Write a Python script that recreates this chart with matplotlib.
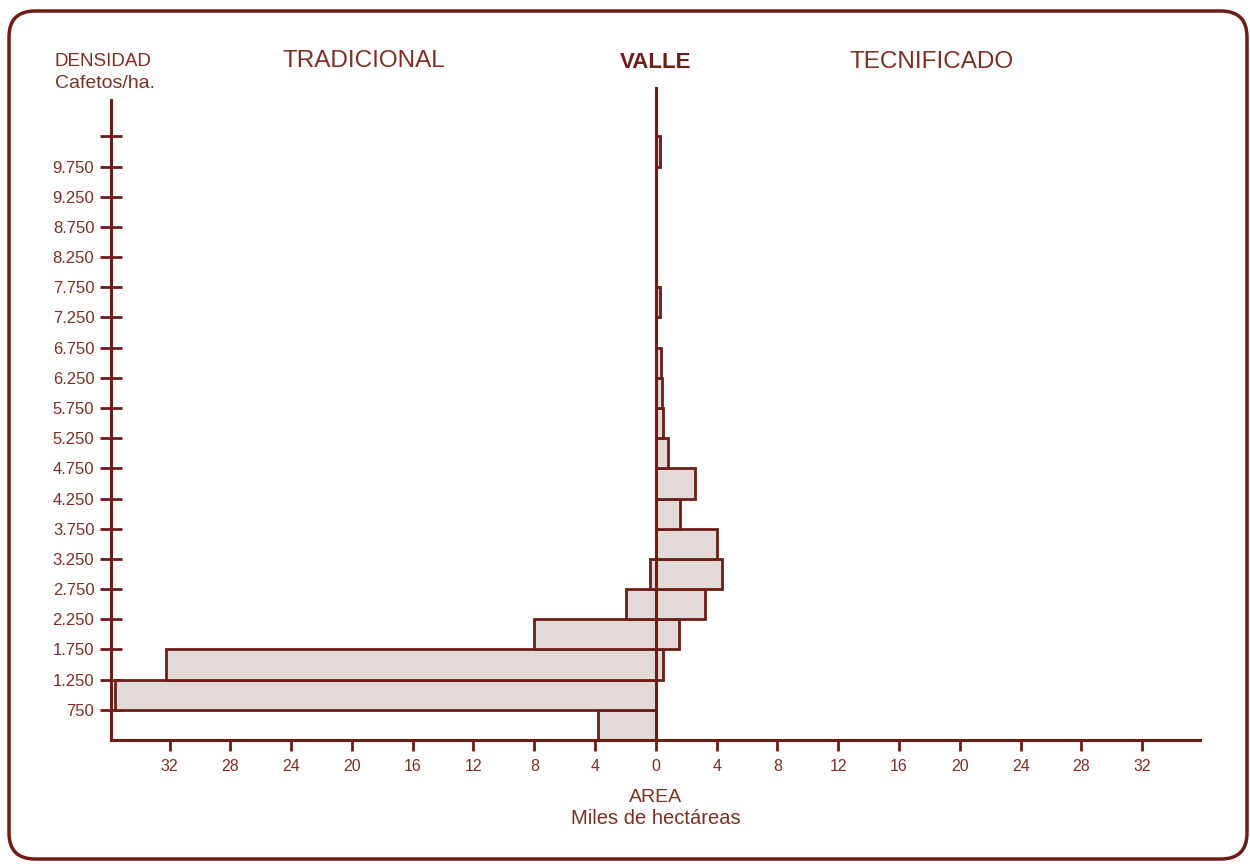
import matplotlib
matplotlib.use("Agg")
import matplotlib.pyplot as plt
from matplotlib.patches import FancyBboxPatch
from matplotlib.transforms import IdentityTransform

# Density bins (bottom to top), tick labels sit on the bin boundaries
density_labels = ["750", "1.250", "1.750", "2.250", "2.750", "3.250", "3.750",
                  "4.250", "4.750", "5.250", "5.750", "6.250", "6.750", "7.250",
                  "7.750", "8.250", "8.750", "9.250", "9.750", ""]
# Area in thousands of hectares, one value per bin (bottom first)
tradicional = [3.8, 35.6, 32.25, 8.0, 1.95, 0.4, 0, 0, 0, 0,
               0, 0, 0, 0, 0, 0, 0, 0, 0, 0]
tecnificado = [0, 0, 0.45, 1.5, 3.2, 4.35, 4.0, 1.6, 2.55, 0.8,
               0.5, 0.4, 0.35, 0, 0.3, 0, 0, 0, 0, 0.3]
x_ticks = [-32, -28, -24, -20, -16, -12, -8, -4, 0, 4, 8, 12, 16, 20, 24, 28, 32]

LINE = "#6e1c16"
TEXT = "#7d2e22"
FILL = "#e2dad8"

plt.rcParams["font.family"] = ["Liberation Sans", "DejaVu Sans"]

fig = plt.figure(figsize=(12.5, 8.64), dpi=100)
fig.patch.set_facecolor("white")
ax = fig.add_axes([0.0888, 0.1435, 0.8712, 0.7545])

bins = list(range(len(density_labels)))
ax.barh(bins, [-v for v in tradicional], height=1, align="edge",
        color=FILL, edgecolor=LINE, linewidth=2, zorder=2)
ax.barh(bins, tecnificado, height=1, align="edge",
        color=FILL, edgecolor=LINE, linewidth=2, zorder=2)

ax.plot([0, 0], [0, 21.6], color=LINE, lw=2.2, zorder=3, clip_on=False)

ax.set_xlim(-35.85, 35.8)
ax.set_ylim(0, 21.6)

for s in ["top", "right"]:
    ax.spines[s].set_visible(False)
for s in ["left", "bottom"]:
    ax.spines[s].set_color(LINE)
    ax.spines[s].set_linewidth(2.2)
ax.spines["left"].set_bounds(0, 21.2)

ax.set_yticks([b + 1 for b in bins])
ax.set_yticklabels(density_labels)
ax.tick_params(axis="y", direction="inout", length=16, width=2, color=LINE,
               labelcolor=TEXT, labelsize=12, pad=4)

ax.set_xticks(x_ticks)
ax.set_xticklabels([str(abs(t)) for t in x_ticks])
ax.tick_params(axis="x", direction="out", length=8, width=2, color=LINE,
               labelcolor=TEXT, labelsize=11.5, pad=6)

# headings
fig.text(55 / 1250, 1 - 62 / 864, "DENSIDAD", color=TEXT, fontsize=13.5, va="center")
fig.text(55 / 1250, 1 - 83 / 864, "Cafetos/ha.", color=TEXT, fontsize=14, va="center")
fig.text(364 / 1250, 1 - 61 / 864, "TRADICIONAL", color=TEXT, fontsize=17.5,
         ha="center", va="center")
fig.text(656 / 1250, 1 - 62 / 864, "VALLE", color=LINE, fontsize=16,
         fontweight="bold", ha="center", va="center")
fig.text(932 / 1250, 1 - 62 / 864, "TECNIFICADO", color=TEXT, fontsize=17.5,
         ha="center", va="center")
fig.text(656 / 1250, 1 - 797 / 864, "AREA", color=TEXT, fontsize=14,
         ha="center", va="center")
fig.text(656 / 1250, 1 - 819 / 864, "Miles de hectáreas", color=TEXT, fontsize=14.5,
         ha="center", va="center")

# rounded frame around the card
frame = FancyBboxPatch((9, 5), 1238, 848, boxstyle="round,pad=0,rounding_size=26",
                       transform=IdentityTransform(), facecolor="none",
                       edgecolor=LINE, linewidth=2.5)
fig.patches.append(frame)

fig.savefig("out.png", dpi=100, facecolor="white")
